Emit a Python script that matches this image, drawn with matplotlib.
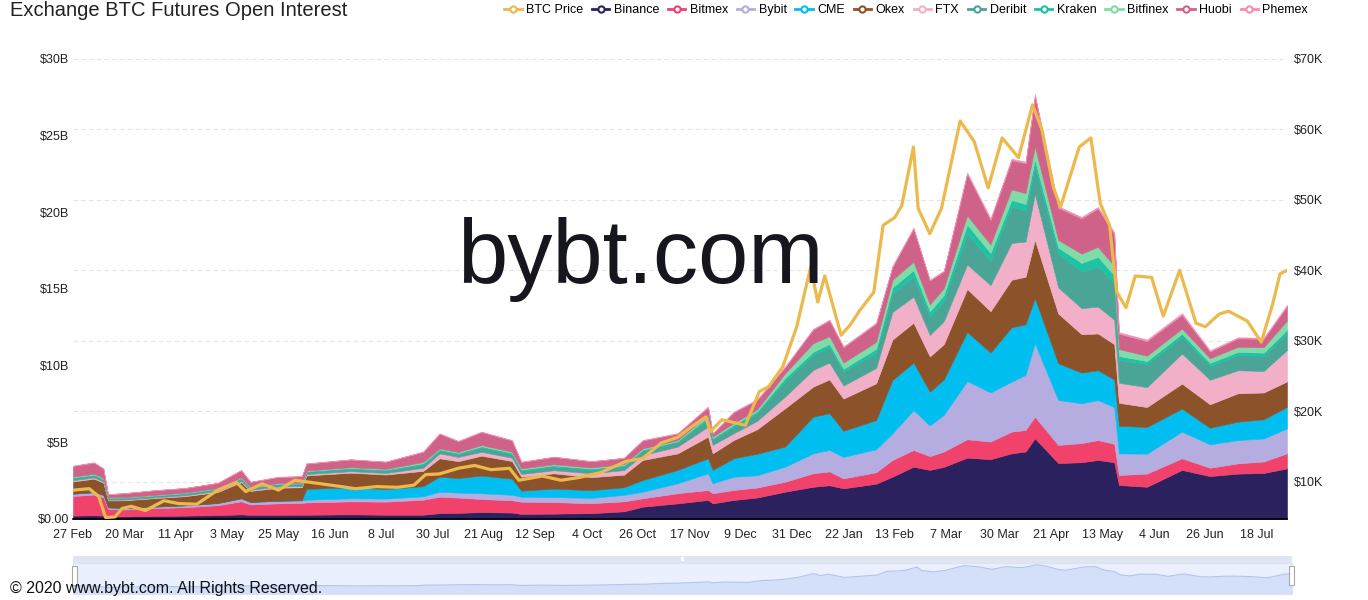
import matplotlib
matplotlib.use("Agg")
import matplotlib.pyplot as plt
from matplotlib.lines import Line2D
from matplotlib.patches import Rectangle
import pandas as pd

plt.rcParams['font.family'] = ['Liberation Sans', 'DejaVu Sans']

# Sample dates for the open interest (roughly every 1-2 weeks, plus the big moves)
dates = ["2020-02-27", "2020-03-07", "2020-03-11", "2020-03-13", "2020-03-20", "2020-04-01", "2020-04-15",
         "2020-04-29", "2020-05-09", "2020-05-13", "2020-05-25", "2020-06-04", "2020-06-06", "2020-06-25",
         "2020-07-10", "2020-07-26", "2020-08-02", "2020-08-10", "2020-08-20", "2020-09-02", "2020-09-06",
         "2020-09-20", "2020-10-06", "2020-10-20", "2020-10-28", "2020-11-12", "2020-11-25", "2020-11-27",
         "2020-12-06", "2020-12-16",
         "2020-12-28", "2021-01-09", "2021-01-16", "2021-01-22", "2021-02-05", "2021-02-12", "2021-02-21",
         "2021-02-28", "2021-03-06", "2021-03-16", "2021-03-26", "2021-04-04", "2021-04-10", "2021-04-14",
         "2021-04-24", "2021-05-04", "2021-05-11", "2021-05-18", "2021-05-20", "2021-06-01", "2021-06-16",
         "2021-06-28", "2021-07-10", "2021-07-21", "2021-07-31"]

# Open interest per exchange, $B
binance = [0.22, 0.24, 0.22, 0.16, 0.17, 0.20, 0.22, 0.25, 0.30, 0.27, 0.27, 0.28, 0.28, 0.30, 0.28, 0.28, 0.38,
           0.40, 0.45, 0.42, 0.33, 0.35, 0.38, 0.50, 0.80, 1.02, 1.24, 1.02, 1.24, 1.40,
           1.78, 2.10, 2.20, 2.00, 2.30, 2.76, 3.41, 3.20, 3.40, 4.00, 3.90, 4.28, 4.40, 5.26, 3.65, 3.70, 3.85,
           3.70, 2.22, 2.10, 3.20, 2.80, 2.96, 3.00, 3.30]
bitmex = [1.28, 1.35, 1.20, 0.50, 0.45, 0.50, 0.55, 0.65, 0.85, 0.68, 0.75, 0.77, 0.80, 0.85, 0.85, 0.98, 1.07,
          1.00, 0.85, 0.80, 0.80, 0.75, 0.65, 0.65, 0.55, 0.66, 0.65, 0.66, 0.65, 0.65,
          0.65, 0.88, 0.90, 0.65, 0.75, 1.09, 1.09, 0.90, 1.00, 1.20, 1.15, 1.42, 1.40, 1.41, 1.18, 1.25, 1.30,
          1.20, 0.65, 0.86, 0.76, 0.54, 0.67, 0.75, 0.98]
bybit = [0.15, 0.16, 0.15, 0.10, 0.10, 0.10, 0.12, 0.14, 0.20, 0.16, 0.17, 0.17, 0.18, 0.20, 0.20, 0.22, 0.33,
         0.32, 0.38, 0.36, 0.32, 0.33, 0.35, 0.42, 0.43, 0.65, 1.09, 0.65, 0.87, 0.80,
         0.98, 1.30, 1.40, 1.40, 1.50, 1.74, 2.60, 2.00, 2.40, 3.80, 3.20, 3.26, 3.60, 4.79, 2.93, 2.60, 2.60,
         2.40, 1.41, 1.30, 1.74, 1.53, 1.52, 1.50, 1.63]
cme = [0, 0, 0, 0, 0, 0, 0, 0, 0, 0, 0, 0, 0.70, 0.72, 0.62, 0.66, 0.98,
       0.95, 1.15, 1.05, 0.40, 0.55, 0.50, 0.50, 0.76, 0.87, 0.98, 0.87, 1.20, 1.40,
       1.31, 2.39, 2.40, 1.70, 1.90, 3.48, 3.10, 2.20, 2.30, 3.20, 2.60, 3.54, 3.30, 2.94, 2.39, 2.00, 1.95,
       1.80, 1.80, 1.74, 1.50, 1.08, 1.20, 1.25, 1.40]
okex = [0.80, 0.88, 0.80, 0.45, 0.50, 0.55, 0.60, 0.72, 1.05, 0.72, 0.85, 0.85, 0.88, 0.95, 0.95, 1.00, 1.20,
        1.10, 1.30, 1.15, 0.91, 1.00, 0.85, 0.82, 1.31, 1.08, 1.41, 1.08, 1.19, 1.60,
        2.50, 1.96, 2.20, 2.10, 2.40, 2.63, 2.60, 2.30, 2.30, 2.80, 2.70, 3.10, 3.10, 3.80, 3.25, 2.50, 2.40,
        2.30, 1.50, 1.30, 1.63, 1.53, 1.85, 1.75, 1.66]
ftx = [0.08, 0.08, 0.07, 0.05, 0.05, 0.05, 0.06, 0.07, 0.08, 0.07, 0.08, 0.08, 0.09, 0.10, 0.10, 0.20, 0.32,
       0.28, 0.25, 0.22, 0.17, 0.20, 0.25, 0.30, 0.32, 0.44, 0.65, 0.55, 0.44, 0.55,
       0.76, 1.09, 1.10, 0.85, 1.00, 1.80, 1.70, 1.40, 1.50, 1.60, 1.70, 2.40, 2.30, 3.00, 1.70, 1.70, 1.75,
       1.60, 1.30, 1.30, 1.96, 1.60, 1.50, 1.40, 2.05]
deribit = [0.13, 0.14, 0.13, 0.10, 0.10, 0.10, 0.11, 0.13, 0.16, 0.13, 0.14, 0.14, 0.15, 0.16, 0.17, 0.22, 0.20,
           0.20, 0.28, 0.25, 0.23, 0.25, 0.24, 0.25, 0.28, 0.30, 0.50, 0.35, 0.45, 0.50,
           0.98, 0.98, 1.00, 0.90, 1.00, 1.20, 1.30, 1.20, 1.30, 2.00, 1.60, 2.40, 2.00, 1.80, 2.20, 2.40, 2.60,
           2.40, 1.50, 1.50, 1.10, 0.90, 1.00, 1.00, 1.10]
kraken = [0.05, 0.05, 0.05, 0.03, 0.03, 0.03, 0.03, 0.03, 0.04, 0.03, 0.04, 0.04, 0.04, 0.05, 0.05, 0.08, 0.06,
          0.06, 0.08, 0.07, 0.07, 0.07, 0.07, 0.07, 0.07, 0.07, 0.13, 0.10, 0.11, 0.12,
          0.23, 0.20, 0.22, 0.20, 0.25, 0.40, 0.43, 0.35, 0.40, 0.60, 0.50, 0.40, 0.45, 0.43, 0.40, 0.55, 0.65,
          0.50, 0.25, 0.20, 0.20, 0.20, 0.20, 0.20, 0.22]
bitfinex = [0.05, 0.05, 0.05, 0.03, 0.03, 0.03, 0.03, 0.03, 0.04, 0.03, 0.04, 0.04, 0.04, 0.05, 0.05, 0.08, 0.06,
            0.06, 0.08, 0.07, 0.07, 0.07, 0.07, 0.07, 0.08, 0.06, 0.13, 0.09, 0.11, 0.12,
            0.31, 0.56, 0.50, 0.40, 0.45, 0.50, 0.55, 0.45, 0.45, 0.60, 0.55, 0.70, 0.70, 0.87, 0.50, 0.60, 0.65,
            0.60, 0.45, 0.35, 0.33, 0.30, 0.33, 0.35, 0.60]
huobi = [0.70, 0.73, 0.61, 0.20, 0.25, 0.30, 0.30, 0.33, 0.46, 0.33, 0.40, 0.41, 0.45, 0.50, 0.46, 0.66, 0.96,
         0.70, 0.85, 0.73, 0.42, 0.48, 0.40, 0.40, 0.52, 0.42, 0.52, 0.20, 0.70, 0.62,
         0.40, 0.89, 1.03, 1.00, 1.20, 0.85, 2.15, 1.55, 1.10, 2.70, 1.60, 1.90, 1.95, 3.30, 2.10, 2.30, 2.50,
         2.10, 1.00, 0.95, 0.90, 0.45, 0.55, 0.55, 0.95]
phemex = [0.02, 0.02, 0.02, 0.01, 0.01, 0.01, 0.01, 0.01, 0.02, 0.01, 0.02, 0.02, 0.02, 0.02, 0.02, 0.02, 0.03,
          0.03, 0.03, 0.03, 0.02, 0.02, 0.02, 0.02, 0.03, 0.03, 0.03, 0.03, 0.04, 0.04,
          0.04, 0.05, 0.05, 0.05, 0.05, 0.05, 0.07, 0.05, 0.05, 0.10, 0.10, 0.10, 0.10, 0.10, 0.10, 0.10, 0.10,
          0.10, 0.10, 0.10, 0.10, 0.07, 0.07, 0.07, 0.07]

# BTC price, $K, on its own (denser) dates
price_dates = ["2020-02-27", "2020-03-05", "2020-03-09", "2020-03-12", "2020-03-16", "2020-03-19", "2020-03-23",
               "2020-03-29", "2020-04-06", "2020-04-12", "2020-04-20", "2020-04-29", "2020-05-07", "2020-05-11",
               "2020-05-18", "2020-05-25", "2020-06-01", "2020-06-10", "2020-06-21", "2020-06-27", "2020-07-06",
               "2020-07-15", "2020-07-22", "2020-07-27", "2020-08-02", "2020-08-10", "2020-08-17", "2020-08-24",
               "2020-09-01", "2020-09-05", "2020-09-15", "2020-09-23", "2020-10-01", "2020-10-10", "2020-10-21",
               "2020-10-28", "2020-11-05", "2020-11-12", "2020-11-18", "2020-11-24", "2020-11-26", "2020-12-01",
               "2020-12-11", "2020-12-17", "2020-12-21", "2020-12-27", "2021-01-02", "2021-01-08", "2021-01-11",
               "2021-01-14", "2021-01-21", "2021-01-25", "2021-01-29", "2021-02-04", "2021-02-08", "2021-02-13",
               "2021-02-16", "2021-02-21", "2021-02-23", "2021-02-28", "2021-03-05", "2021-03-13", "2021-03-19",
               "2021-03-25", "2021-03-31", "2021-04-07", "2021-04-13", "2021-04-17", "2021-04-22", "2021-04-25",
               "2021-05-03", "2021-05-08", "2021-05-12", "2021-05-16", "2021-05-19", "2021-05-23", "2021-05-27",
               "2021-06-03", "2021-06-08", "2021-06-15", "2021-06-22", "2021-06-26", "2021-07-02", "2021-07-06",
               "2021-07-14", "2021-07-20", "2021-07-25", "2021-07-28", "2021-07-31"]
btc_price = [8.8, 9.0, 7.9, 4.9, 5.0, 6.2, 6.5, 5.9, 7.3, 6.9, 6.8, 8.8, 9.9, 8.6,
             9.7, 8.8, 10.2, 9.8, 9.3, 9.0, 9.3, 9.2, 9.5, 11.0, 11.1, 11.9, 12.3, 11.7,
             11.9, 10.2, 10.8, 10.2, 10.6, 11.3, 12.9, 13.3, 15.5, 16.3, 17.8, 19.2, 17.1, 18.8,
             18.0, 22.8, 23.5, 26.3, 32.0, 40.5, 35.5, 39.2, 30.8, 32.3, 34.3, 36.9, 46.4, 47.5,
             49.2, 57.5, 48.8, 45.2, 48.8, 61.2, 58.3, 51.7, 58.8, 56.0, 63.5, 60.0, 51.7, 49.0,
             57.5, 58.8, 49.5, 46.4, 37.0, 34.7, 39.2, 39.0, 33.5, 40.0, 32.5, 32.0, 33.8, 34.2,
             32.8, 29.8, 35.4, 39.5, 40.0]

exchanges = ["Binance", "Bitmex", "Bybit", "CME", "Okex", "FTX", "Deribit", "Kraken", "Bitfinex", "Huobi", "Phemex"]
series = [binance, bitmex, bybit, cme, okex, ftx, deribit, kraken, bitfinex, huobi, phemex]
colors = ["#2b215e", "#f0426a", "#b5acdf", "#00bff0", "#8c532a", "#f2b0c8",
          "#4ba597", "#1ec2a5", "#7fdca6", "#cf6289", "#f58cb5"]
price_color = "#ebb94c"

tick_dates = ["2020-02-27", "2020-03-20", "2020-04-11", "2020-05-03", "2020-05-25", "2020-06-16", "2020-07-08",
              "2020-07-30", "2020-08-21", "2020-09-12", "2020-10-04", "2020-10-26", "2020-11-17", "2020-12-09",
              "2020-12-31", "2021-01-22", "2021-02-13", "2021-03-07", "2021-03-30", "2021-04-21", "2021-05-13",
              "2021-06-04", "2021-06-26", "2021-07-18"]
tick_labels = ["27 Feb", "20 Mar", "11 Apr", "3 May", "25 May", "16 Jun", "8 Jul", "30 Jul", "21 Aug",
               "12 Sep", "4 Oct", "26 Oct", "17 Nov", "9 Dec", "31 Dec", "22 Jan", "13 Feb", "7 Mar",
               "30 Mar", "21 Apr", "13 May", "4 Jun", "26 Jun", "18 Jul"]

W, H = 1368, 600
x = pd.to_datetime(dates)
xp = pd.to_datetime(price_dates)
x0, x1 = x[0], x[-1]
pmin, pmax = 4.7, 70

fig = plt.figure(figsize=(W / 100, H / 100), dpi=100)
ax = fig.add_axes([73 / W, 81 / H, 1214 / W, 460 / H])

# grid lines follow the price axis, drawn behind the areas
for k in range(10, 80, 10):
    ax.axhline((k - pmin) / (pmax - pmin) * 30, color="#e4e4e4", lw=0.8, ls=(0, (4, 3)), zorder=0)

polys = ax.stackplot(x, *series, colors=colors, zorder=2)
for p, c in zip(polys, colors):
    p.set_edgecolor(c)
    p.set_linewidth(0.4)

ax.set_xlim(x0, x1)
ax.set_ylim(0, 30)
ax.set_yticks([0, 5, 10, 15, 20, 25, 30])
ax.set_yticklabels(["$0.00", "$5B", "$10B", "$15B", "$20B", "$25B", "$30B"])
ax.set_xticks(pd.to_datetime(tick_dates))
ax.set_xticklabels(tick_labels)
ax.tick_params(axis="both", length=0, labelsize=9, colors="#222222")
ax.tick_params(axis="x", pad=7)
ax.tick_params(axis="y", pad=3)
for s in ["top", "right", "left"]:
    ax.spines[s].set_visible(False)
ax.spines["bottom"].set_color("#000000")
ax.spines["bottom"].set_linewidth(1.2)
ax.spines["bottom"].set_zorder(5)

ax2 = ax.twinx()
ax2.plot(xp, btc_price, color=price_color, lw=2.3, zorder=3)
ax2.set_ylim(pmin, pmax)
ax2.set_yticks(range(10, 80, 10))
ax2.set_yticklabels(["$%dK" % k for k in range(10, 80, 10)])
ax2.tick_params(axis="y", length=0, labelsize=9, colors="#222222", pad=5)
for s in ax2.spines.values():
    s.set_visible(False)

# title and legend
fig.text(10 / W, 1 - 11 / H, "Exchange BTC Futures Open Interest", fontsize=14.5, va="center", color="#222222")
handles = [Line2D([], [], color=price_color, lw=2, marker="o", markersize=4.5,
                  markerfacecolor="white", markeredgewidth=1.5)]
handles += [Line2D([], [], color=c, lw=2, marker="o", markersize=4.5,
                   markerfacecolor="white", markeredgewidth=1.5) for c in colors]
fig.legend(handles, ["BTC Price"] + exchanges, loc="upper right", bbox_to_anchor=(1308 / W, 1 - 4 / H),
           ncol=12, frameon=False, fontsize=9, handlelength=1.4, handletextpad=0.35,
           columnspacing=0.7, borderaxespad=0, borderpad=0)

# watermark
fig.text(457 / W, 1 - 283 / H, "bybt.com", fontsize=65, color="#16161e")

# data zoom slider at the bottom
dz = fig.add_axes([73 / W, 1 - 594 / H, 1219 / W, 31 / H])
dz.set_facecolor("#eaf0fd")
dz.fill_between(xp, btc_price, -20, color="#d4dff9", lw=0)
dz.plot(xp, btc_price, color="#b3c3ee", lw=0.8)
dz.set_xlim(x0, x1)
dz.set_ylim(-12, 68)
dz.set_xticks([])
dz.set_yticks([])
for s in dz.spines.values():
    s.set_color("#dbe2f0")
fig.add_artist(Rectangle((73 / W, 1 - 563 / H), 1219 / W, 7 / H, transform=fig.transFigure,
                         facecolor="#dfe5f1", edgecolor="none"))
fig.add_artist(Rectangle((681 / W, 1 - 561 / H), 3 / W, 4 / H, transform=fig.transFigure,
                         facecolor="white", edgecolor="none"))
for hx in [72, 1289]:
    fig.add_artist(Rectangle((hx / W, 1 - 585 / H), 5 / W, 19 / H, transform=fig.transFigure,
                             facecolor="white", edgecolor="#a8a8a8", lw=0.8))

fig.text(10 / W, 1 - 588 / H, "\u00a9 2020 www.bybt.com. All Rights Reserved.", fontsize=11.5,
         va="center", color="#111111")

fig.savefig("out.png", dpi=100)
